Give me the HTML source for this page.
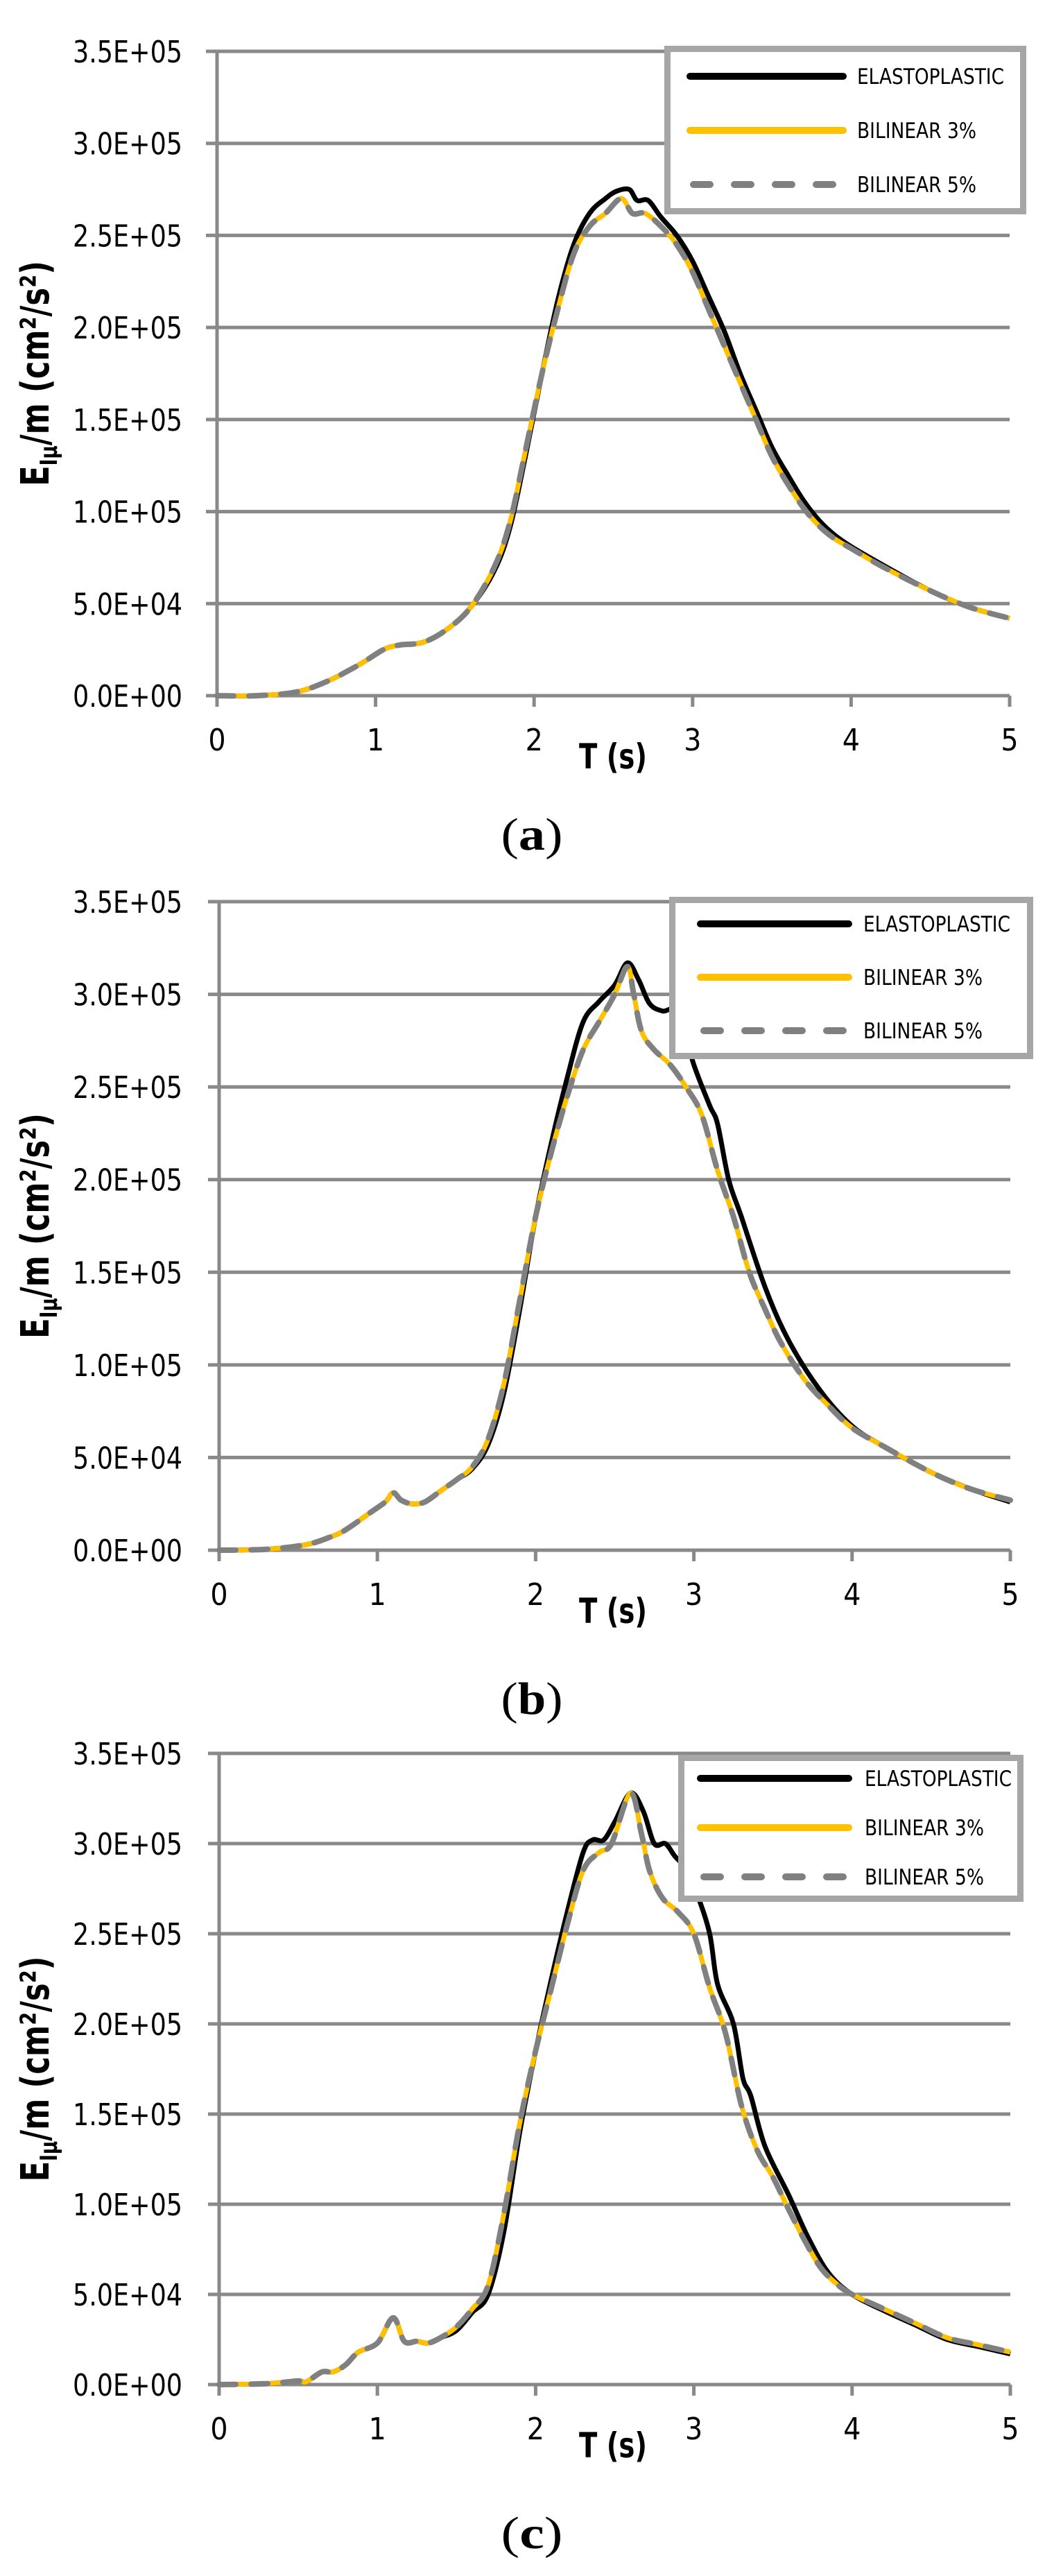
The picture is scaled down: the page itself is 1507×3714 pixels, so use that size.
<!DOCTYPE html>
<html><head><meta charset="utf-8"><style>
html,body{margin:0;padding:0;background:#fff;}
svg{display:block;}
.tk{font-family:"Liberation Sans Narrow","DejaVu Sans Condensed","Liberation Sans",sans-serif;font-size:44px;fill:#000;}
.lg{font-family:"Liberation Sans Narrow","DejaVu Sans Condensed","Liberation Sans",sans-serif;font-size:31px;fill:#000;}
.ti{font-family:"Liberation Sans Narrow","DejaVu Sans Condensed","Liberation Sans",sans-serif;font-weight:bold;fill:#000;}
.cap{font-family:"Liberation Serif","DejaVu Serif",serif;font-size:66px;fill:#000;}
</style></head><body>
<svg id="s" width="1507" height="3714" viewBox="0 0 1507 3714" xmlns="http://www.w3.org/2000/svg"></svg>
<script>
const NS="http://www.w3.org/2000/svg";
const S=document.getElementById("s");
function el(t,a,p,txt){const e=document.createElementNS(NS,t);for(const k in a)e.setAttribute(k,a[k]);if(txt!=null)e.textContent=txt;(p||S).appendChild(e);return e;}
function cr(pts){let d="M"+pts[0][0].toFixed(1)+","+pts[0][1].toFixed(1);
 for(let i=0;i<pts.length-1;i++){const p0=pts[i-1]||pts[i],p1=pts[i],p2=pts[i+1],p3=pts[i+2]||p2;
 const c1=[p1[0]+(p2[0]-p0[0])/6,p1[1]+(p2[1]-p0[1])/6],c2=[p2[0]-(p3[0]-p1[0])/6,p2[1]-(p3[1]-p1[1])/6];
 d+=" C"+c1[0].toFixed(1)+","+c1[1].toFixed(1)+" "+c2[0].toFixed(1)+","+c2[1].toFixed(1)+" "+p2[0].toFixed(1)+","+p2[1].toFixed(1);}
 return d;}
const panels=[
{top:74,bot:1003,L:313,R:1456,leg:[958,66,1480,309],ly:[110,188,266],lx:[995,1216],tx:1236,cap:"a",capOff:222,
 Y:[[0,0],[0.25,0],[0.5,0.02],[0.7,0.08],[0.9,0.17],[1.05,0.25],[1.15,0.275],[1.3,0.29],[1.45,0.36],[1.6,0.48],[1.75,0.7],[1.85,0.95],[1.95,1.35],[2.05,1.75],[2.15,2.1],[2.25,2.4],[2.35,2.55],[2.45,2.62],[2.55,2.7],[2.62,2.62],[2.7,2.62],[2.8,2.55],[2.9,2.45],[3.0,2.3],[3.1,2.1],[3.2,1.9],[3.3,1.7],[3.4,1.5],[3.5,1.3],[3.6,1.15],[3.7,1.02],[3.8,0.92],[3.9,0.85],[4.0,0.8],[4.2,0.7],[4.5,0.57],[4.75,0.48],[5,0.42]],
 K:[[0,0],[0.25,0],[0.5,0.02],[0.7,0.08],[0.9,0.17],[1.05,0.25],[1.15,0.275],[1.3,0.29],[1.45,0.36],[1.6,0.48],[1.75,0.68],[1.85,0.92],[1.95,1.32],[2.05,1.75],[2.15,2.15],[2.25,2.45],[2.35,2.62],[2.45,2.7],[2.52,2.74],[2.6,2.75],[2.65,2.69],[2.72,2.69],[2.8,2.6],[2.9,2.5],[3.0,2.36],[3.1,2.17],[3.2,1.98],[3.3,1.75],[3.4,1.55],[3.5,1.35],[3.6,1.2],[3.7,1.06],[3.8,0.95],[3.9,0.87],[4.0,0.81],[4.2,0.71],[4.5,0.57],[4.75,0.48],[5,0.42]]},
{top:1300,bot:2235,L:316,R:1457,leg:[965,1293,1490,1527],ly:[1332,1409,1486],lx:[1010,1224],tx:1245,cap:"b",capOff:236,
 Y:[[0,0],[0.3,0.005],[0.55,0.03],[0.7,0.07],[0.8,0.11],[0.95,0.2],[1.05,0.26],[1.1,0.31],[1.15,0.27],[1.22,0.25],[1.3,0.26],[1.4,0.32],[1.5,0.38],[1.6,0.45],[1.7,0.6],[1.8,0.9],[1.9,1.35],[2.0,1.8],[2.1,2.15],[2.2,2.45],[2.3,2.7],[2.4,2.85],[2.5,3.0],[2.58,3.15],[2.62,3.0],[2.67,2.8],[2.75,2.7],[2.85,2.62],[2.95,2.5],[3.05,2.35],[3.15,2.05],[3.25,1.8],[3.35,1.5],[3.45,1.3],[3.55,1.12],[3.7,0.92],[3.85,0.78],[4.0,0.66],[4.2,0.56],[4.5,0.42],[4.75,0.33],[5,0.27]],
 K:[[0,0],[0.3,0.005],[0.55,0.03],[0.7,0.07],[0.8,0.11],[0.95,0.2],[1.05,0.26],[1.1,0.31],[1.15,0.27],[1.22,0.25],[1.3,0.26],[1.4,0.32],[1.5,0.38],[1.6,0.44],[1.7,0.57],[1.8,0.85],[1.9,1.3],[2.0,1.8],[2.1,2.2],[2.2,2.55],[2.3,2.85],[2.4,2.96],[2.5,3.05],[2.58,3.17],[2.65,3.08],[2.72,2.95],[2.8,2.91],[2.9,2.9],[3.0,2.62],[3.1,2.4],[3.15,2.3],[3.22,2.0],[3.3,1.8],[3.45,1.42],[3.6,1.13],[3.8,0.86],[4.0,0.67],[4.2,0.56],[4.5,0.42],[4.75,0.33],[5,0.26]]},
{top:2528,bot:3438,L:316,R:1457,leg:[978,2530,1476,2742],ly:[2564,2635,2706],lx:[1010,1224],tx:1247,cap:"c",capOff:236,
 Y:[[0,0],[0.3,0.005],[0.5,0.02],[0.55,0.015],[0.65,0.07],[0.72,0.07],[0.8,0.11],[0.88,0.18],[1.0,0.23],[1.1,0.37],[1.17,0.24],[1.25,0.24],[1.32,0.23],[1.4,0.26],[1.5,0.32],[1.6,0.42],[1.7,0.55],[1.8,0.95],[1.9,1.45],[2.0,1.85],[2.1,2.2],[2.2,2.55],[2.3,2.85],[2.4,2.95],[2.48,3.0],[2.6,3.28],[2.67,3.05],[2.72,2.85],[2.8,2.7],[2.9,2.62],[3.0,2.5],[3.1,2.2],[3.2,1.95],[3.3,1.55],[3.4,1.3],[3.5,1.15],[3.6,0.97],[3.7,0.8],[3.8,0.65],[3.9,0.56],[4.0,0.5],[4.2,0.42],[4.4,0.34],[4.6,0.26],[4.8,0.22],[5,0.18]],
 K:[[0,0],[0.3,0.005],[0.5,0.02],[0.55,0.015],[0.65,0.07],[0.72,0.07],[0.8,0.11],[0.88,0.18],[1.0,0.23],[1.1,0.37],[1.17,0.24],[1.25,0.24],[1.32,0.23],[1.4,0.26],[1.5,0.3],[1.6,0.4],[1.7,0.5],[1.8,0.85],[1.9,1.4],[2.0,1.85],[2.1,2.25],[2.2,2.62],[2.3,2.95],[2.36,3.02],[2.43,3.02],[2.5,3.12],[2.6,3.28],[2.68,3.18],[2.75,3.0],[2.82,3.0],[2.88,2.93],[2.95,2.86],[3.02,2.72],[3.1,2.5],[3.15,2.22],[3.25,2.0],[3.31,1.7],[3.36,1.6],[3.45,1.32],[3.6,1.05],[3.72,0.82],[3.85,0.62],[4.0,0.5],[4.2,0.41],[4.4,0.33],[4.6,0.25],[4.8,0.21],[5,0.17]]}
];
const labs=["0.0E+00","5.0E+04","1.0E+05","1.5E+05","2.0E+05","2.5E+05","3.0E+05","3.5E+05"];
panels.forEach(P=>{
 const gs=(P.bot-P.top)/7, xs=(P.R-P.L)/5;
 const X=t=>P.L+t*xs, Yv=v=>P.bot-v*gs*2;
 for(let i=0;i<8;i++){const y=P.bot-i*gs;
  el("line",{x1:P.L-16,y1:y,x2:P.R,y2:y,stroke:"#898989","stroke-width":5});
  el("text",{x:263,y:y+16,"text-anchor":"end",class:"tk",textLength:158,lengthAdjust:"spacingAndGlyphs"},null,labs[i]);}
 el("line",{x1:P.L,y1:P.top-2,x2:P.L,y2:P.bot+16,stroke:"#898989","stroke-width":5});
 for(let i=1;i<=5;i++){el("line",{x1:X(i),y1:P.bot,x2:X(i),y2:P.bot+16,stroke:"#898989","stroke-width":5});}
 for(let i=0;i<=5;i++){el("text",{x:X(i),y:P.bot+79,"text-anchor":"middle",class:"tk"},null,String(i));}
 el("text",{x:884,y:P.bot+105,"text-anchor":"middle",class:"ti","font-size":50,textLength:98,lengthAdjust:"spacingAndGlyphs"},null,"T (s)");
 const cy=(P.top+P.bot)/2;
 const t=el("text",{x:0,y:0,class:"ti","font-size":56,"text-anchor":"middle",transform:"translate(70,"+cy+") rotate(-90)",textLength:325,lengthAdjust:"spacingAndGlyphs"});
 el("tspan",{},t,"E");el("tspan",{"font-size":34,dy:12},t,"Iμ");el("tspan",{dy:-12},t,"/m (cm²/s²)");
 const tf=a=>a.map(p=>[X(p[0]),Yv(p[1])]);
 el("path",{d:cr(tf(P.K)),fill:"none",stroke:"#000","stroke-width":7,"stroke-linejoin":"round"});
 el("path",{d:cr(tf(P.Y)),fill:"none",stroke:"#ffc000","stroke-width":7,"stroke-linejoin":"round"});
 el("path",{d:cr(tf(P.Y)),fill:"none",stroke:"#808080","stroke-width":8,"stroke-dasharray":"24,22","stroke-linecap":"round"});
 const g=P.leg;
 el("rect",{x:g[0]+4.5,y:g[1]+4.5,width:g[2]-g[0]-9,height:g[3]-g[1]-9,fill:"#fff",stroke:"#a6a6a6","stroke-width":9});
 el("line",{x1:P.lx[0],y1:P.ly[0],x2:P.lx[1],y2:P.ly[0],stroke:"#000","stroke-width":10,"stroke-linecap":"round"});
 el("line",{x1:P.lx[0],y1:P.ly[1],x2:P.lx[1],y2:P.ly[1],stroke:"#ffc000","stroke-width":10,"stroke-linecap":"round"});
 el("line",{x1:P.lx[0]+5,y1:P.ly[2],x2:P.lx[1],y2:P.ly[2],stroke:"#808080","stroke-width":10,"stroke-linecap":"round","stroke-dasharray":"24,35"});
 el("text",{x:P.tx,y:P.ly[0]+11,class:"lg",textLength:212,lengthAdjust:"spacingAndGlyphs"},null,"ELASTOPLASTIC");
 el("text",{x:P.tx,y:P.ly[1]+11,class:"lg",textLength:172,lengthAdjust:"spacingAndGlyphs"},null,"BILINEAR 3%");
 el("text",{x:P.tx,y:P.ly[2]+11,class:"lg",textLength:172,lengthAdjust:"spacingAndGlyphs"},null,"BILINEAR 5%");
 const c=el("text",{x:767,y:P.bot+P.capOff,"text-anchor":"middle",class:"cap",textLength:89,lengthAdjust:"spacingAndGlyphs"});
 el("tspan",{},c,"(");el("tspan",{"font-weight":"bold"},c,P.cap);el("tspan",{},c,")");
});
</script>
</body></html>
